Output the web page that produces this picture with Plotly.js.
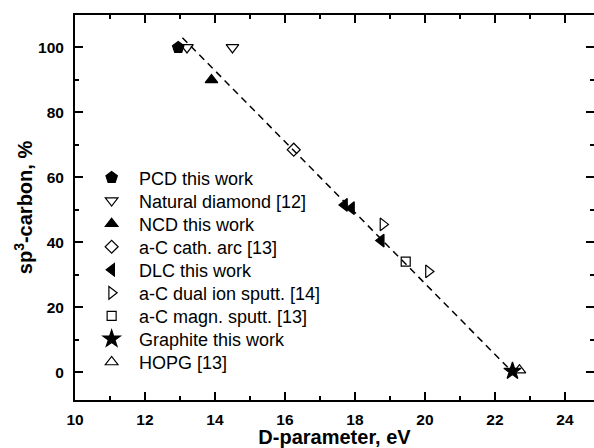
<!DOCTYPE html>
<html><head><meta charset="utf-8">
<script src="https://cdn.plot.ly/plotly-3.0.1.min.js"></script>
<style>body{margin:0;padding:0;background:#fff}#chart{width:594px;height:448px}</style>
</head><body><div id="chart"></div>
<script>
// Series values (D-parameter in eV, sp3-carbon in %)
const pcdX = [12.95];            const pcdY = [100];
const natX = [13.2, 14.5];       const natY = [100, 100];
const ncdX = [13.9];             const ncdY = [90];
const arcX = [16.25];            const arcY = [68.5];
const dlcX = [17.7, 17.9, 18.75]; const dlcY = [51.5, 50.5, 40.5];
const dualX = [18.8, 20.1];      const dualY = [45.5, 31];
const magnX = [19.45];           const magnY = [34];
const graX = [22.5];             const graY = [0.3];
const hopgX = [22.7];            const hopgY = [0.6];
const fitX = [13.07, 22.7];      const fitY = [103, -2.2];

// Tick labels
const xTickVals = [10, 12, 14, 16, 18, 20, 22, 24];
const xTickText = ["10", "12", "14", "16", "18", "20", "22", "24"];
const yTickVals = [0, 20, 40, 60, 80, 100];
const yTickText = ["0", "20", "40", "60", "80", "100"];

const names = ["PCD this work","Natural diamond [12]","NCD this work","a-C cath. arc [13]","DLC this work","a-C dual ion sputt. [14]","a-C magn. sputt. [13]","Graphite this work","HOPG [13]"];
const xs = [pcdX, natX, ncdX, arcX, dlcX, dualX, magnX, graX, hopgX];
const ys = [pcdY, natY, ncdY, arcY, dlcY, dualY, magnY, graY, hopgY];
const symbols = ["pentagon","triangle-down-open","triangle-up","diamond-open","triangle-left","triangle-right-open","square-open","star","triangle-up-open"];
const sizes = [12,11,11,10,11,11,9,13,11];

const FONT = "Liberation Sans, Arial, sans-serif";
const traces = [{
  x: fitX, y: fitY, mode: "lines", showlegend: false, hoverinfo: "skip",
  line: {color: "#000", width: 1.5, dash: "7px,5px"}
}];
for (let i = 0; i < names.length; i++) {
  traces.push({
    x: xs[i], y: ys[i], mode: "markers", name: names[i],
    marker: {symbol: symbols[i], size: sizes[i], color: "#000", line: {color: "#000", width: 1.2}}
  });
}

const axisCommon = {
  showgrid: false, zeroline: false,
  showline: true, linewidth: 2, linecolor: "#000", mirror: "ticks",
  ticks: "inside", ticklen: 8, tickwidth: 2, tickcolor: "#000",
  tickmode: "array",
  tickfont: {size: 15.5, family: FONT, color: "#000", weight: 700}
};

const layout = {
  width: 594, height: 448,
  margin: {l: 75, r: 0, t: 15, b: 48},
  paper_bgcolor: "#fff", plot_bgcolor: "#fff",
  font: {family: FONT, color: "#000"},
  showlegend: true,
  legend: {x: 0.018, y: 0.625, xanchor: "left", yanchor: "top", bgcolor: "rgba(0,0,0,0)",
           itemwidth: 44.6, font: {size: 18, family: FONT, color: "#000"}, tracegroupgap: 0},
  xaxis: Object.assign({}, axisCommon, {
    range: [10, 24.83],
    tickvals: xTickVals, ticktext: xTickText.map(t => "<b>" + t + "</b>"),
    minor: {dtick: 1, tick0: 10, ticks: "inside", ticklen: 4, tickwidth: 2, tickcolor: "#000"},
    ticklabelstandoff: 4,
    title: {text: "<b>D-parameter, eV</b>", font: {size: 20, family: FONT, weight: 700}, standoff: 3}
  }),
  yaxis: Object.assign({}, axisCommon, {
    range: [-8.6, 110],
    tickvals: yTickVals, ticktext: yTickText.map(t => "<b>" + t + "</b>"),
    minor: {dtick: 10, tick0: 0, ticks: "inside", ticklen: 4, tickwidth: 2, tickcolor: "#000"},
    ticklabelstandoff: 6,
    title: {text: "<b>sp<sup>3</sup>-carbon, %</b>", font: {size: 20, family: FONT, weight: 700}, standoff: 0}
  })
};
Plotly.newPlot("chart", traces, layout, {displayModeBar: false, staticPlot: true}).then(function () {
  // tighten legend row spacing to match the reference
  const items = document.querySelectorAll(".legend .traces");
  let x0 = 0, y0 = null;
  items.forEach(function (g, i) {
    const m = (g.getAttribute("transform") || "").match(/translate\(\s*([-\d.e]+)[\s,]+([-\d.e]+)\s*\)/);
    if (!m) return;
    if (y0 === null) { x0 = parseFloat(m[1]); y0 = parseFloat(m[2]); }
    g.setAttribute("transform", "translate(" + x0 + "," + (y0 + i * 23.05) + ")");
  });
});
</script></body></html>
